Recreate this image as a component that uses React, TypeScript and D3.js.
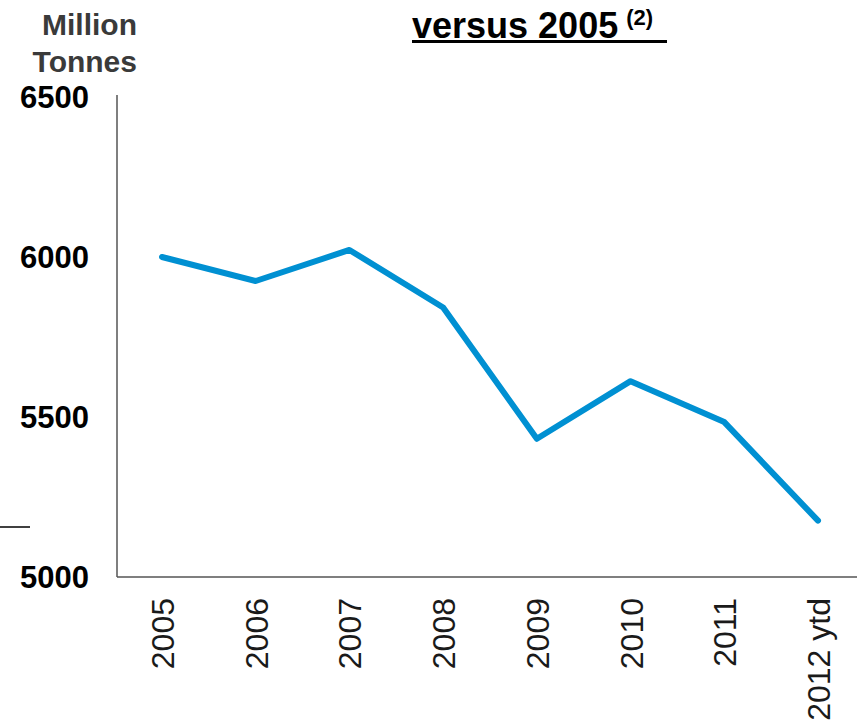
import React from "react";
import * as d3 from "d3";

const categories = ["2005", "2006", "2007", "2008", "2009", "2010", "2011", "2012 ytd"];
const emissions = [6000, 5925, 6022, 5842, 5432, 5612, 5484, 5176];
const yTicks = [5000, 5500, 6000, 6500];
const titleText = "versus 2005";
const titleNote = "(2)";
const unitLines = ["Million", "Tonnes"];

export default function App() {
  const width = 857;
  const height = 722;
  const axisLeft = 117;
  const axisBottom = 577;

  const x = d3.scalePoint<string>().domain(categories).range([162, 818]);
  const y = d3.scaleLinear().domain([5000, 6500]).range([577, 97]);

  const line = d3
    .line<number>()
    .x((_, i) => x(categories[i]) as number)
    .y((d) => y(d));

  const font = "'Liberation Sans', Arial, sans-serif";

  return (
    <svg
      width={width}
      height={height}
      style={{ position: "absolute", left: 0, top: 0, background: "#fff" }}
    >
      {/* unit label */}
      {unitLines.map((t, i) => (
        <text
          key={t}
          x={137}
          y={35 + i * 37}
          textAnchor="end"
          fontFamily={font}
          fontWeight="bold"
          fontSize={30}
          fill="#3a3a3a"
        >
          {t}
        </text>
      ))}

      {/* title */}
      <text x={412} y={38} fontFamily={font} fontWeight="bold" fontSize={36} fill="#000">
        {titleText}
        <tspan dx={8} dy={-13} fontSize={22}>
          {titleNote}
        </tspan>
      </text>
      <line x1={412} x2={667} y1={41.5} y2={41.5} stroke="#000" strokeWidth={3} />

      {/* small left mark */}
      <line x1={0} x2={30} y1={527} y2={527} stroke="#000" strokeWidth={1.5} />

      {/* axes */}
      <line x1={axisLeft} x2={axisLeft} y1={95} y2={axisBottom} stroke="#555" strokeWidth={1.5} />
      <line x1={axisLeft} x2={width} y1={axisBottom} y2={axisBottom} stroke="#555" strokeWidth={1.5} />

      {/* y tick labels */}
      {yTicks.map((t) => (
        <text
          key={t}
          x={89}
          y={y(t)}
          dy="0.35em"
          textAnchor="end"
          fontFamily={font}
          fontWeight="bold"
          fontSize={31}
          fill="#000"
        >
          {t}
        </text>
      ))}

      {/* x labels */}
      {categories.map((c) => (
        <text
          key={c}
          transform={`translate(${(x(c) as number) + 12},598) rotate(-90)`}
          textAnchor="end"
          fontFamily={font}
          fontSize={32}
          fill="#1a1a1a"
        >
          {c}
        </text>
      ))}

      {/* series line */}
      <path
        d={line(emissions) || ""}
        fill="none"
        stroke="#0090d2"
        strokeWidth={6}
        strokeLinecap="round"
        strokeLinejoin="round"
      />
    </svg>
  );
}
